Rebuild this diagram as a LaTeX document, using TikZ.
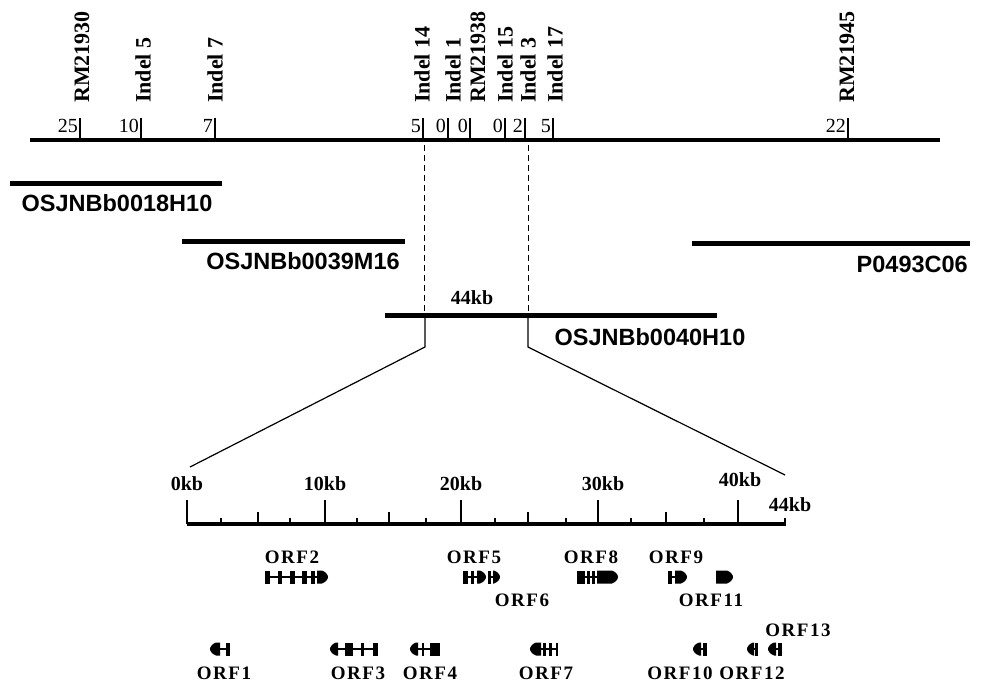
\documentclass[tikz,border=0pt]{standalone}
\usepackage{fontspec}
\setmainfont{Liberation Serif}
\newfontfamily\clonefont{Liberation Sans}
\newfontfamily\orffont[LetterSpace=8]{Liberation Serif}
\tikzset{
  vlab/.style={rotate=90,anchor=west,inner sep=0pt,font=\fontsize{22}{22}\selectfont\bfseries},
  dist/.style={anchor=base east,inner sep=0pt,font=\fontsize{20}{20}\selectfont},
  clonelab/.style={inner sep=0pt,font=\clonefont\fontsize{23.5}{23.5}\selectfont\bfseries},
  kblab/.style={anchor=base,inner sep=0pt,font=\fontsize{20}{20}\selectfont\bfseries},
  orflab/.style={inner sep=0pt,font=\orffont\fontsize{19}{19}\selectfont\bfseries},
  mapline/.style={line width=4pt},
  clonebar/.style={line width=5pt},
  tickline/.style={line width=1.1pt},
  dashline/.style={line width=1pt,dash pattern=on 6pt off 4pt},
  zoomline/.style={line width=1.2pt},
  intron/.style={line width=2.6pt}
}
% exon block: x1 x2 yc
\newcommand\exn[3]{\fill (#1,#3-6.5) rectangle (#2,#3+6.5);}
% right-pointing head: x1 x2 yc
\newcommand\rhead[3]{\fill (#1,#3-6.5) -- (#2-6,#3-6.5) .. controls (#2-2,#3-5) and (#2,#3-2) .. (#2,#3) .. controls (#2,#3+2) and (#2-2,#3+5) .. (#2-6,#3+6.5) -- (#1,#3+6.5) -- cycle;}
% left-pointing head
\newcommand\lhead[3]{\fill (#2,#3-6.5) -- (#1+6,#3-6.5) .. controls (#1+2,#3-5) and (#1,#3-2) .. (#1,#3) .. controls (#1,#3+2) and (#1+2,#3+5) .. (#1+6,#3+6.5) -- (#2,#3+6.5) -- cycle;}
\newcommand\intr[3]{\draw[intron] (#1,#3) -- (#2,#3);}
\begin{document}
\begin{tikzpicture}[x=1pt,y=-1pt]
\useasboundingbox[fill=white] (0,0) rectangle (982,684);

% ---- top genetic map ----
\coordinate (mapL) at (30,140);
\coordinate (mapR) at (940,140);
\draw[mapline] (mapL) -- (mapR);

\foreach \n/\x/\d in {m1/80/25, m2/141/10, m3/215/7,
  m4/423/5, m5/448/0, m6/470/0, m7/505/0,
  m8/525/2, m9/553/5, m10/848/22} {
  \coordinate (\n t) at (\x,118);
  \coordinate (\n b) at (\x,138);
  \draw[tickline] (\n t) -- (\n b);
  \node[dist] (\n d) at (\x-2,133) {\d};
}
\node[vlab] (l1) at (82,103) {RM21930};
\node[vlab] (l2) at (143,103) {Indel 5};
\node[vlab] (l3) at (215,103) {Indel 7};
\node[vlab] (l4) at (422,103) {Indel 14};
\node[vlab] (l5) at (453,103) {Indel 1};
\node[vlab] (l6) at (478,103) {RM21938};
\node[vlab] (l7) at (505,103) {Indel 15};
\node[vlab] (l8) at (528,103) {Indel 3};
\node[vlab] (l9) at (555,103) {Indel 17};
\node[vlab] (l10) at (847,103) {RM21945};

% ---- clones ----
\coordinate (c1a) at (10,184);  \coordinate (c1b) at (222,184);
\draw[clonebar] (c1a) -- (c1b);
\node[clonelab] (c1l) at (117,203) {OSJNBb0018H10};

\coordinate (c2a) at (182,242); \coordinate (c2b) at (405,242);
\draw[clonebar] (c2a) -- (c2b);
\node[clonelab] (c2l) at (303,261) {OSJNBb0039M16};

\coordinate (c3a) at (692,244); \coordinate (c3b) at (970,244);
\draw[clonebar] (c3a) -- (c3b);
\node[clonelab,anchor=east] (c3l) at (968,264) {P0493C06};

\coordinate (c4a) at (385,316); \coordinate (c4b) at (717,316);
\draw[clonebar] (c4a) -- (c4b);
\node[clonelab] (c4l) at (650,337) {OSJNBb0040H10};
\node[kblab] (k44) at (472,305) {44kb};

% dashed projections
\coordinate (dL1) at (424,145); \coordinate (dL2) at (424,314);
\coordinate (dR1) at (528,145); \coordinate (dR2) at (528,314);
\draw[dashline] (dL1) -- (dL2);
\draw[dashline] (dR1) -- (dR2);

% zoom lines
\coordinate (zL0) at (425,318); \coordinate (zL1) at (425,347); \coordinate (zL2) at (190,467);
\coordinate (zR0) at (528,318); \coordinate (zR1) at (528,347); \coordinate (zR2) at (785,475);
\draw[zoomline] (zL0) -- (zL1) -- (zL2);
\draw[zoomline] (zR0) -- (zR1) -- (zR2);

% ---- physical scale ----
\coordinate (sL) at (187,524); \coordinate (sR) at (786,524);
\draw[mapline] (sL) -- (sR);
\foreach \x in {187,325,461,598,738} \draw[tickline] (\x,500) -- (\x,524);
\foreach \x in {258,389,528,666} \draw[tickline] (\x,512) -- (\x,524);
\foreach \x in {221,290,357,426,495,566,631,704,785} \draw[tickline] (\x,518) -- (\x,524);
\node[kblab] (s0) at (187,490) {0kb};
\node[kblab] (s10) at (325,490) {10kb};
\node[kblab] (s20) at (461,490) {20kb};
\node[kblab] (s30) at (603,490) {30kb};
\node[kblab] (s40) at (740,486) {40kb};
\node[kblab] (s44) at (790,511) {44kb};

% ---- genes, top row (forward) ----
\intr{265}{318}{577}
\exn{265}{270}{577}\exn{278}{282}{577}\exn{290}{295}{577}\exn{302}{307}{577}\exn{311}{315}{577}
\rhead{317}{328}{577}
\intr{463}{480}{577}
\exn{463}{468}{577}\exn{471}{474}{577}\rhead{477}{486}{577}
\exn{488}{491}{577}\intr{490}{494}{577}\rhead{493}{500}{577}
\intr{577}{600}{577}
\exn{577}{585}{577}\exn{587}{590}{577}\exn{592}{595}{577}\rhead{597}{618}{577}
\exn{668}{672}{577}\intr{671}{676}{577}\rhead{675}{687}{577}
\rhead{716}{733}{577}

% ---- genes, bottom row (reverse) ----
\lhead{210}{220}{649}\intr{219}{230}{649}\exn{226}{230}{649}
\lhead{330}{338}{649}\intr{337}{378}{649}\exn{345}{353}{649}\exn{361}{364}{649}\exn{373}{378}{649}
\lhead{410}{418}{649}\intr{417}{440}{649}\exn{422}{424}{649}\exn{430}{440}{649}
\lhead{530}{541}{649}\intr{540}{558}{649}\exn{543}{546}{649}\exn{549}{552}{649}\exn{556}{558}{649}
\lhead{693}{701}{649}\intr{700}{707}{649}\exn{703}{707}{649}
\lhead{747}{754}{649}\intr{753}{758}{649}\exn{755}{758}{649}
\lhead{768}{776}{649}\intr{775}{782}{649}\exn{778}{782}{649}

% ---- ORF labels ----
\node[orflab] (o2) at (292,557) {ORF2};
\node[orflab] (o5) at (474,557) {ORF5};
\node[orflab] (o8) at (591,557) {ORF8};
\node[orflab] (o9) at (676,557) {ORF9};
\node[orflab] (o6) at (522,600) {ORF6};
\node[orflab] (o11) at (711,600) {ORF11};
\node[orflab] (o13) at (798,630) {ORF13};
\node[orflab] (o1) at (224,673) {ORF1};
\node[orflab] (o3) at (358,673) {ORF3};
\node[orflab] (o4) at (430,673) {ORF4};
\node[orflab] (o7) at (546,673) {ORF7};
\node[orflab] (o10) at (680,673) {ORF10};
\node[orflab] (o12) at (752,673) {ORF12};
\end{tikzpicture}
\end{document}
